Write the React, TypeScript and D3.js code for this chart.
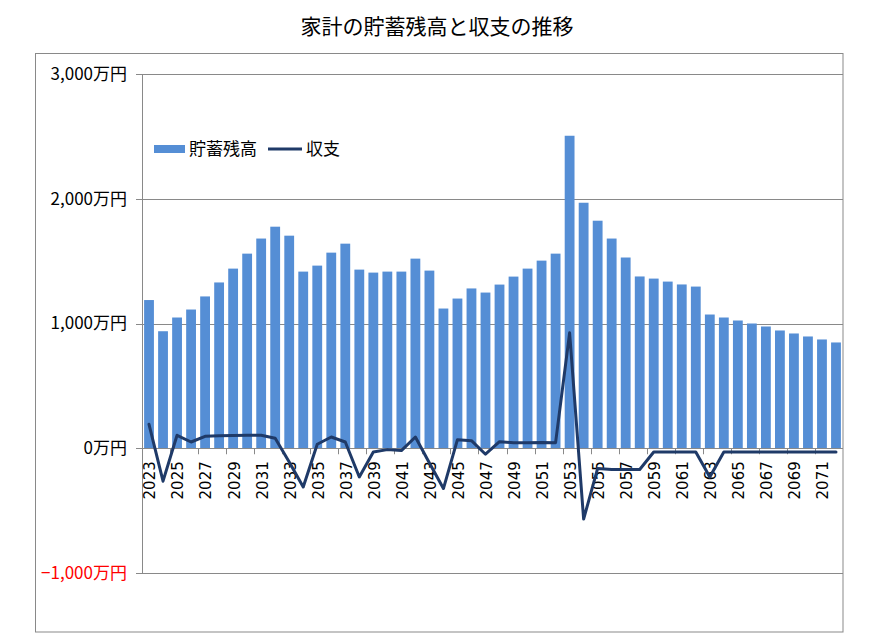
import React from "react";
import * as d3 from "d3";

const years: number[] = [
  2023, 2024, 2025, 2026, 2027, 2028, 2029, 2030, 2031, 2032,
  2033, 2034, 2035, 2036, 2037, 2038, 2039, 2040, 2041, 2042,
  2043, 2044, 2045, 2046, 2047, 2048, 2049, 2050, 2051, 2052,
  2053, 2054, 2055, 2056, 2057, 2058, 2059, 2060, 2061, 2062,
  2063, 2064, 2065, 2066, 2067, 2068, 2069, 2070, 2071, 2072,
];

// 貯蓄残高 (万円)
const savings: number[] = [
  1188, 938, 1048, 1112, 1217, 1329, 1440, 1560, 1681, 1776,
  1704, 1416, 1464, 1568, 1640, 1432, 1408, 1416, 1416, 1520,
  1424, 1120, 1200, 1281, 1248, 1312, 1376, 1440, 1504, 1560,
  2505, 1968, 1824, 1681, 1529, 1377, 1360, 1336, 1313, 1296,
  1072, 1048, 1024, 1000, 976, 944, 920, 896, 872, 848,
];

// 収支 (万円)
const balance: number[] = [
  192, -264, 104, 50, 96, 101, 102, 104, 104, 80,
  -110, -310, 32, 90, 50, -230, -30, -11, -19, 90,
  -118, -323, 69, 61, -48, 53, 45, 45, 47, 45,
  925, -568, -162, -170, -170, -170, -30, -30, -30, -30,
  -230, -30, -30, -30, -30, -30, -30, -30, -30, -30,
];

const yTicks: number[] = [-1000, 0, 1000, 2000, 3000];
const title = "家計の貯蓄残高と収支の推移";
const seriesNames: string[] = ["貯蓄残高", "収支"];

const W = 877;
const H = 642;
const FONT = "'Noto Sans CJK JP', 'Noto Sans', sans-serif";

export default function App() {
  const x = d3
    .scaleBand<number>()
    .domain(years)
    .range([142, 843])
    .paddingInner(0.3)
    .paddingOuter(0.15);
  const y = d3.scaleLinear().domain([-1000, 3000]).range([573, 74]);
  const cx = (yr: number) => (x(yr) as number) + x.bandwidth() / 2;
  const step = x.step();
  const x0 = 142;

  const line = d3
    .line<number>()
    .x((_, i) => cx(years[i]))
    .y((d) => y(d));

  const fmt = (v: number) => d3.format(",")(v) + "万円";
  const grid = "#898989";

  return (
    <svg
      width={W}
      height={H}
      style={{ position: "absolute", left: 0, top: 0, background: "#fff" }}
      fontFamily={FONT}
    >
      <rect x={0} y={0} width={W} height={H} fill="#fff" />
      <rect x={35.5} y={53.5} width={807.5} height={578.5} fill="none" stroke={grid} strokeWidth={1} />
      <text x={437} y={34} textAnchor="middle" fontSize={21} fill="#000">
        {title}
      </text>

      {/* gridlines */}
      {yTicks
        .filter((t) => t !== 0)
        .map((t) => (
          <line key={t} x1={x0} x2={843} y1={Math.round(y(t)) + 0.5} y2={Math.round(y(t)) + 0.5} stroke={grid} strokeWidth={1} />
        ))}

      {/* bars */}
      {years.map((yr, i) => (
        <rect
          key={yr}
          x={x(yr)}
          y={y(Math.max(0, savings[i]))}
          width={x.bandwidth()}
          height={Math.abs(y(savings[i]) - y(0))}
          fill="#558ED5"
        />
      ))}

      {/* y axis */}
      <line x1={x0 + 0.5} x2={x0 + 0.5} y1={y(3000)} y2={y(-1000)} stroke={grid} strokeWidth={1} />
      {yTicks.map((t) => (
        <g key={t}>
          <line x1={136} x2={x0} y1={Math.round(y(t)) + 0.5} y2={Math.round(y(t)) + 0.5} stroke={grid} strokeWidth={1} />
          <text x={127} y={y(t)} dy="0.35em" textAnchor="end" fontSize={17} fill={t < 0 ? "#FF0000" : "#000"}>
            {fmt(t)}
          </text>
        </g>
      ))}

      {/* x axis at 0 */}
      <line x1={x0} x2={843} y1={Math.round(y(0)) + 0.5} y2={Math.round(y(0)) + 0.5} stroke={grid} strokeWidth={1} />
      {years.map((yr, i) =>
        i % 2 === 0 ? (
          <line
            key={"t" + yr}
            x1={Math.round(x0 + i * step) + 0.5}
            x2={Math.round(x0 + i * step) + 0.5}
            y1={y(0)}
            y2={y(0) + 6}
            stroke={grid}
            strokeWidth={1}
          />
        ) : null
      )}
      {years.map((yr, i) =>
        i % 2 === 0 ? (
          <text
            key={"l" + yr}
            transform={`translate(${cx(yr) + 1},${y(0) + 13}) rotate(-90)`}
            dy="0.36em"
            textAnchor="end"
            fontSize={15}
            fontFamily="'DejaVu Sans', sans-serif"
            fill="#000"
          >
            {yr}
          </text>
        ) : null
      )}

      {/* line series */}
      <path d={line(balance) || ""} fill="none" stroke="#1F3A68" strokeWidth={3} strokeLinejoin="round" strokeLinecap="round" />

      {/* legend */}
      <rect x={154} y={145} width={31} height={8} fill="#558ED5" />
      <text x={189} y={149} dy="0.35em" fontSize={17} fill="#000">
        {seriesNames[0]}
      </text>
      <line x1={268} x2={302} y1={149} y2={149} stroke="#1F3A68" strokeWidth={3} />
      <text x={306} y={149} dy="0.35em" fontSize={17} fill="#000">
        {seriesNames[1]}
      </text>
    </svg>
  );
}
